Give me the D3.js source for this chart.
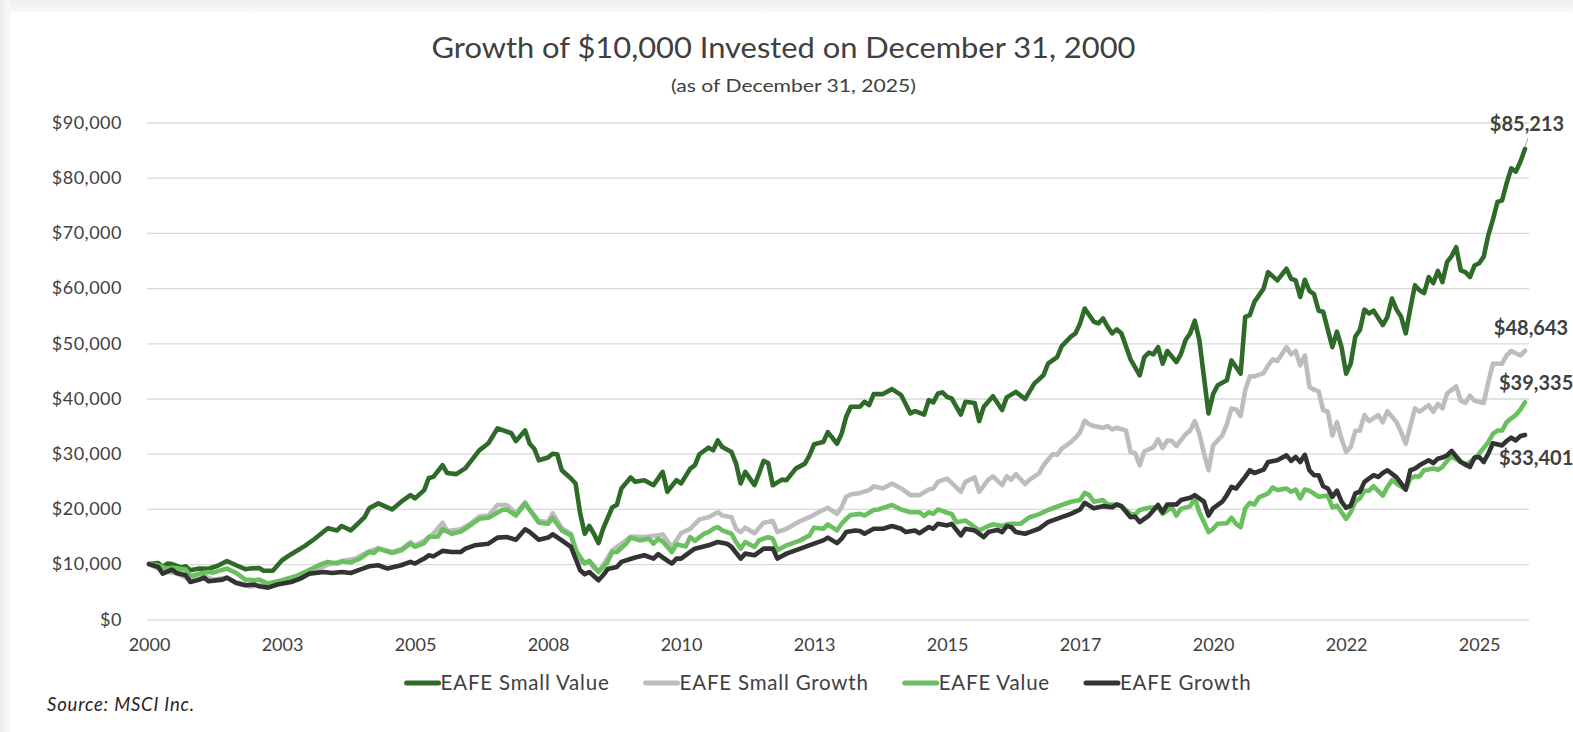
<!DOCTYPE html>
<html>
<head>
<meta charset="utf-8">
<script src="https://cdn.jsdelivr.net/npm/d3@7/dist/d3.min.js"></script>
<style>
  html, body { margin: 0; padding: 0; background: #ffffff; }
  svg { display: block; }
  text { font-family: Lato, "Open Sans", "DejaVu Sans", sans-serif; }
</style>
</head>
<body>
<svg id="chart" width="1573" height="732"></svg>
<script>
// ---------------- DATA ----------------
const chartTitle = "Growth of $10,000 Invested on December 31, 2000";
const chartSubtitle = "(as of December 31, 2025)";
const sourceNote = "Source: MSCI Inc.";
const seriesNames = ["EAFE Small Value", "EAFE Small Growth", "EAFE Value", "EAFE Growth"];
const seriesColors = ["#2e6b29", "#bdbdbd", "#6abf5f", "#333333"];
// month index 0 = Dec 2000 ... 300 = Dec 2025; tick label every 29 months
const xTickMonths = [0, 29, 58, 87, 116, 145, 174, 203, 232, 261, 290];
const xTickLabels = ["2000", "2003", "2005", "2008", "2010", "2013", "2015", "2017", "2020", "2022", "2025"];
const yTickValues = [0, 10000, 20000, 30000, 40000, 50000, 60000, 70000, 80000, 90000];
const endLabels = ["$85,213", "$48,643", "$39,335", "$33,401"];

// [month index, value in $]
const smallValue = [[0,10000],[2,10200],[3,9480],[4,10100],[5,10000],[7,9400],[8,9600],[9,8880],[11,9200],[13,9150],[15,9700],[17,10560],[19,9790],[21,9070],[22,9200],[24,9300],[25,8800],[27,8800],[29,10700],[31,11800],[34,13300],[36,14500],[39,16500],[41,16100],[42,16900],[44,16100],[45,16900],[47,18500],[48,20100],[50,21000],[53,19900],[55,21300],[57,22500],[58,21900],[60,23400],[61,25600],[62,25800],[64,27900],[65,26500],[67,26300],[69,27400],[72,30600],[74,31900],[76,34600],[79,33700],[80,32300],[82,34200],[83,31800],[84,30900],[85,28800],[87,29300],[88,30000],[89,29900],[90,27000],[92,25500],[93,24600],[94,19200],[95,15500],[96,16900],[97,15500],[98,13800],[99,16400],[101,20300],[102,20700],[103,23700],[105,25700],[106,24900],[108,25200],[110,24300],[112,26700],[113,23100],[115,25200],[116,24600],[118,27300],[119,27900],[120,29900],[122,31100],[123,30600],[124,32400],[125,31200],[127,30300],[128,28200],[129,24600],[130,26700],[132,24300],[133,26400],[134,28700],[135,28300],[136,24300],[138,25300],[139,25200],[141,27300],[143,28200],[144,29700],[145,31700],[147,32100],[148,33900],[150,31800],[151,33600],[152,36700],[153,38500],[155,38500],[156,39400],[157,38800],[158,40800],[160,40800],[162,41700],[164,40600],[166,37300],[167,37700],[169,37100],[170,39700],[171,39300],[172,40900],[173,41100],[174,40300],[175,40000],[177,37100],[178,39400],[180,39200],[181,35900],[182,38500],[184,40400],[186,37900],[187,40200],[189,41200],[191,39900],[193,42700],[195,44200],[196,46300],[198,47500],[199,49500],[201,51200],[202,51800],[203,53600],[204,56300],[206,53900],[207,53600],[208,54500],[209,53000],[210,51800],[211,52500],[212,51800],[214,47100],[216,44200],[217,47500],[218,48300],[219,48000],[220,49300],[221,46300],[222,48600],[224,46600],[225,48100],[226,50600],[227,51800],[228,54100],[229,50600],[230,43900],[231,37300],[232,40800],[233,42400],[235,43300],[236,46900],[237,45700],[238,44500],[239,54800],[240,55100],[241,57500],[243,59900],[244,62900],[246,61400],[248,63500],[249,61700],[250,61400],[251,58400],[252,61500],[253,59500],[254,58900],[255,55900],[256,55700],[258,49300],[259,52100],[260,49300],[261,44500],[262,46300],[263,51200],[264,52400],[265,56100],[266,55400],[267,55900],[269,53300],[270,54800],[271,58100],[272,56100],[273,54800],[274,51800],[275,56300],[276,60500],[277,59600],[278,59100],[279,62000],[280,60900],[281,63100],[282,61100],[283,64700],[284,65800],[285,67400],[286,63200],[287,62900],[288,62000],[289,64100],[290,64500],[291,65700],[292,69600],[293,72400],[294,75600],[295,75900],[296,79000],[297,81700],[298,81100],[299,82900],[300,85213]];

const smallGrowth = [[0,10000],[3,8800],[6,8300],[9,7200],[12,7800],[14,7200],[17,7500],[19,6700],[21,6300],[22,5900],[24,6200],[26,6000],[28,6500],[31,7300],[34,8200],[36,8800],[39,9900],[42,10500],[45,11000],[48,12300],[50,12900],[53,12200],[55,12700],[57,14000],[58,13400],[60,14200],[62,15500],[64,17500],[65,16000],[68,16300],[70,17300],[72,18600],[74,18800],[76,20700],[78,20700],[80,19200],[82,21200],[83,19900],[85,17800],[87,17600],[88,19200],[90,16500],[92,15500],[93,13000],[94,10200],[96,10400],[97,9300],[98,8700],[99,9800],[101,12500],[104,14300],[105,15000],[108,14900],[111,15200],[112,15400],[114,13100],[115,14300],[116,15600],[118,16400],[120,18100],[122,18500],[124,19400],[125,18800],[127,18500],[128,16400],[129,15800],[130,16600],[132,15600],[134,17500],[136,17800],[137,15800],[139,16400],[142,17800],[144,18500],[146,19400],[148,20200],[150,19100],[151,20300],[152,22200],[153,22600],[155,22900],[157,23400],[158,24100],[160,23700],[162,24600],[164,23700],[166,22500],[168,22500],[170,23500],[171,23700],[172,24900],[174,25500],[175,24700],[177,23100],[178,24900],[180,25700],[181,23100],[183,25300],[184,25900],[186,24300],[187,25900],[188,25300],[189,26300],[191,24500],[192,25300],[194,26400],[195,27900],[197,29900],[198,29800],[199,30900],[201,32100],[202,32900],[203,33900],[204,36000],[205,35300],[206,35000],[208,34700],[209,35000],[210,34400],[211,34700],[213,34200],[214,30300],[215,30100],[216,27900],[217,30400],[219,31200],[220,32600],[221,31000],[222,32400],[223,32300],[224,31400],[226,33500],[227,34200],[228,35900],[229,33600],[230,30100],[231,27000],[232,31500],[234,33300],[235,35300],[236,38200],[237,38000],[238,36800],[239,41500],[240,44000],[241,44000],[243,44600],[244,46000],[245,47100],[246,46800],[248,49300],[249,48000],[250,48600],[251,46000],[252,47800],[253,42100],[254,41600],[255,41300],[256,37900],[257,37600],[258,33300],[259,35700],[260,32700],[261,30300],[262,31200],[263,34100],[264,34200],[265,37000],[266,35900],[268,37000],[269,35700],[270,37700],[272,35700],[273,33900],[274,31800],[275,35000],[276,38200],[277,37600],[279,38800],[280,37600],[281,39000],[282,38200],[283,40900],[285,42200],[286,39600],[287,39200],[288,40500],[289,39600],[291,39200],[292,43000],[293,46300],[295,46300],[296,47800],[297,48600],[298,48200],[299,47800],[300,48643]];

const value = [[0,10000],[2,9780],[4,9190],[5,9360],[8,9000],[9,7790],[11,8280],[13,8570],[14,8460],[17,9190],[19,8390],[21,7190],[23,7070],[24,7190],[26,6470],[29,7070],[32,7790],[34,8570],[37,9790],[39,10400],[41,10100],[42,10500],[44,10300],[46,11000],[48,12200],[49,12000],[50,12800],[53,12000],[55,12500],[57,13700],[58,13100],[60,13800],[61,14900],[63,15000],[64,16300],[66,15500],[68,15900],[70,17000],[72,18200],[74,18400],[77,19800],[78,19900],[80,18800],[82,21000],[83,19800],[85,17500],[87,17300],[88,18400],[90,16100],[92,15200],[93,12500],[95,10100],[96,10600],[97,9600],[98,8570],[99,9480],[100,10400],[101,12200],[102,12200],[104,13700],[105,14800],[107,14300],[109,14600],[110,13700],[111,14600],[112,14100],[114,12200],[115,13600],[117,13200],[118,14900],[119,14200],[121,15500],[122,15800],[123,16400],[124,16700],[125,16100],[127,15500],[128,14000],[129,12800],[130,14000],[132,13100],[133,14300],[135,14900],[136,14600],[137,12500],[139,13400],[142,14300],[144,15200],[145,16600],[147,16400],[148,17200],[150,16100],[151,17300],[152,18200],[153,18900],[155,19100],[156,18800],[158,19800],[159,19900],[162,20700],[164,19900],[166,19400],[168,19400],[169,18700],[170,19400],[171,19100],[172,19900],[174,19300],[175,19100],[176,17600],[178,17900],[179,17300],[181,16100],[183,16900],[184,17200],[186,16900],[187,17200],[188,17300],[190,17300],[192,18500],[194,19000],[196,19800],[199,20700],[201,21300],[203,21600],[204,22900],[205,22500],[206,21300],[208,21600],[209,20800],[211,20800],[212,20500],[214,19100],[215,19000],[216,19800],[218,20200],[220,20300],[221,19100],[223,20300],[224,18800],[225,20000],[227,20500],[228,21900],[229,19400],[231,15800],[232,16400],[233,17300],[235,17400],[236,18400],[237,17300],[238,16700],[239,20100],[240,21100],[241,20800],[242,22100],[244,22800],[245,23900],[246,23400],[248,23700],[249,23100],[250,23500],[251,21900],[252,23500],[253,23300],[255,22200],[257,22400],[258,20300],[259,20600],[260,19400],[261,18200],[262,19400],[263,21300],[264,21900],[265,23300],[266,23300],[267,24100],[269,22400],[270,24000],[271,25200],[272,24600],[274,23500],[275,25500],[276,25900],[277,25900],[278,27000],[280,27300],[281,27100],[282,27600],[283,28700],[284,29500],[286,28500],[287,27900],[289,29100],[290,30000],[292,32100],[293,33600],[294,34200],[295,34200],[296,35700],[297,36400],[298,37000],[299,38000],[300,39335]];

const growth = [[0,10000],[2,9480],[3,8280],[5,9000],[6,8390],[8,7970],[9,6760],[11,7190],[12,7550],[13,6880],[16,7190],[17,7550],[19,6580],[21,6160],[23,6300],[24,5980],[26,5740],[28,6300],[31,6760],[33,7370],[35,8280],[38,8570],[40,8390],[42,8570],[44,8390],[46,9000],[48,9600],[50,9790],[52,9190],[55,9790],[57,10400],[58,10100],[60,11000],[61,11600],[62,11400],[64,12400],[66,12200],[68,12200],[69,12800],[71,13400],[74,13700],[76,14800],[78,14900],[80,14400],[82,16300],[83,15800],[85,14400],[87,14800],[88,15400],[90,14300],[92,13100],[94,8880],[95,8150],[96,8570],[98,7070],[99,7970],[100,9100],[102,9480],[103,10400],[106,11200],[108,11600],[110,11000],[111,11800],[112,11200],[114,10100],[115,11000],[116,11000],[118,12200],[119,12800],[122,13400],[124,14000],[126,13700],[127,13100],[129,11000],[130,11900],[132,11600],[134,12800],[136,12800],[137,11000],[139,11900],[142,12800],[145,13700],[147,14300],[148,14800],[150,13800],[151,14600],[152,15800],[154,16100],[155,16000],[156,15500],[158,16400],[160,16400],[162,16900],[164,16400],[165,15800],[167,16100],[168,15600],[170,16700],[171,16400],[172,17300],[174,17000],[175,17300],[177,15200],[178,16400],[180,16100],[182,14900],[183,15800],[185,16200],[186,15800],[187,16900],[188,16700],[189,15800],[191,15500],[192,15800],[194,16400],[196,17600],[199,18500],[201,19100],[203,19900],[204,21100],[206,20100],[208,20500],[210,20300],[211,20800],[212,20500],[214,18500],[215,18600],[216,17600],[218,18800],[220,20700],[221,19400],[222,20800],[224,20800],[225,21600],[227,22000],[228,22500],[230,21300],[231,18800],[232,20100],[234,21300],[235,22500],[236,24000],[237,23700],[239,25800],[240,27000],[241,26500],[243,27100],[244,28500],[246,28800],[248,29700],[249,28700],[250,29400],[251,28500],[252,29800],[253,27000],[254,26100],[255,26100],[256,24100],[257,23700],[258,22200],[259,23300],[260,21300],[261,20200],[262,20600],[263,22800],[264,23100],[265,24900],[267,26100],[268,25800],[269,26500],[270,27000],[272,25700],[273,24600],[274,23500],[275,27000],[276,27300],[277,27900],[279,28800],[280,28300],[281,29100],[282,29300],[283,29700],[284,30500],[286,28500],[287,28100],[288,27600],[289,29300],[290,29400],[291,28500],[292,30000],[293,31900],[295,31500],[296,32300],[297,32900],[298,32400],[299,33200],[300,33401]];

const seriesData = [smallValue, smallGrowth, value, growth];

// ---------------- DRAW ----------------
const W = 1573, H = 732;
const svg = d3.select("#chart");
const textColor = "#404040";

// card background with faint shadow edge on top/left
const defs = svg.append("defs");
const gl = defs.append("linearGradient").attr("id", "gl").attr("x1", 0).attr("x2", 1).attr("y1", 0).attr("y2", 0);
gl.append("stop").attr("offset", "0%").attr("stop-color", "#ececec");
gl.append("stop").attr("offset", "100%").attr("stop-color", "#f8f8f8");
const gt = defs.append("linearGradient").attr("id", "gt").attr("x1", 0).attr("x2", 0).attr("y1", 0).attr("y2", 1);
gt.append("stop").attr("offset", "0%").attr("stop-color", "#efefef");
gt.append("stop").attr("offset", "100%").attr("stop-color", "#f8f8f8");
svg.append("rect").attr("x", 0).attr("y", 0).attr("width", W).attr("height", 12).attr("fill", "url(#gt)");
svg.append("rect").attr("x", 0).attr("y", 0).attr("width", 10).attr("height", H).attr("fill", "url(#gl)");
svg.append("rect").attr("x", 10).attr("y", 12).attr("width", W - 10).attr("height", H - 12).attr("fill", "#ffffff");

const plotLeft = 149, plotRight = 1525, gridLeft = 147, gridRight = 1529;
const x = d3.scaleLinear().domain([0, 300]).range([plotLeft, plotRight]);
const y = d3.scaleLinear().domain([0, 90000]).range([619.3, 122.5]);

// Title
svg.append("text")
  .attr("x", 783.5).attr("y", 58)
  .attr("text-anchor", "middle")
  .attr("font-size", 28).attr("fill", textColor)
  .attr("textLength", 704).attr("lengthAdjust", "spacingAndGlyphs")
  .text(chartTitle);
svg.append("text")
  .attr("x", 793.5).attr("y", 92)
  .attr("text-anchor", "middle")
  .attr("font-size", 18).attr("fill", textColor)
  .attr("textLength", 245).attr("lengthAdjust", "spacingAndGlyphs")
  .text(chartSubtitle);

// Y axis with gridlines
const yAxis = d3.axisLeft(y)
  .tickValues(yTickValues)
  .tickFormat(d => "$" + d3.format(",")(d))
  .tickSizeInner(-(gridRight - gridLeft))
  .tickSizeOuter(0)
  .tickPadding(25);
const yG = svg.append("g").attr("transform", `translate(${gridLeft},0)`).call(yAxis);
yG.select(".domain").remove();
yG.selectAll(".tick line").attr("stroke", "#d9d9d9").attr("stroke-width", 1.3);
yG.selectAll(".tick text").attr("font-size", 18).attr("fill", textColor)
  .attr("letter-spacing", 0.5)
  .style("font-family", "Lato, 'Open Sans', sans-serif");

// X axis
const xAxis = d3.axisBottom(x)
  .tickValues(xTickMonths)
  .tickFormat((d, i) => xTickLabels[i])
  .tickSize(0)
  .tickPadding(19);
const xG = svg.append("g").attr("transform", `translate(0,${y(0)})`).call(xAxis);
xG.select(".domain").remove();
xG.selectAll(".tick text").attr("font-size", 18).attr("fill", textColor)
  .style("font-family", "Lato, 'Open Sans', sans-serif");

// Lines
const line = d3.line().x(d => x(d[0])).y(d => y(d[1]));
const linesG = svg.append("g");
seriesData.forEach((s, i) => {
  linesG.append("path")
    .datum(s)
    .attr("d", line)
    .attr("fill", "none")
    .attr("stroke", seriesColors[i])
    .attr("stroke-width", 4.6)
    .attr("stroke-linejoin", "round")
    .attr("stroke-linecap", "round");
});

// End labels
const labelOffsets = [
  { dx: 2, dy: -18, anchor: "middle" },
  { dx: 6, dy: -16, anchor: "middle" },
  { dx: -26, dy: -12, anchor: "start" },
  { dx: -26, dy: 30, anchor: "start" }
];
seriesData.forEach((s, i) => {
  const last = s[s.length - 1];
  const px = x(last[0]), py = y(last[1]);
  const o = labelOffsets[i];
  if (i === 0) {
    svg.append("line")
      .attr("x1", px).attr("y1", py - 2)
      .attr("x2", px + 3).attr("y2", py - 11)
      .attr("stroke", "#a6a6a6").attr("stroke-width", 1);
  }
  svg.append("text")
    .attr("x", px + o.dx).attr("y", py + o.dy)
    .attr("text-anchor", o.anchor)
    .attr("font-size", 20).attr("font-weight", 700)
    .attr("fill", textColor)
    .text(endLabels[i]);
});

// Legend
const legendY = 683;
const legend = svg.append("g");
const items = [];
seriesNames.forEach((name, i) => {
  const g = legend.append("g");
  g.append("line")
    .attr("x1", 2).attr("x2", 34).attr("y1", 0).attr("y2", 0)
    .attr("stroke", seriesColors[i]).attr("stroke-width", 5)
    .attr("stroke-linecap", "round");
  const t = g.append("text")
    .attr("x", 36).attr("y", 7)
    .attr("font-size", 20.5).attr("fill", textColor)
    .attr("letter-spacing", 0.8)
    .text(name);
  const w = 36 + t.node().getComputedTextLength();
  items.push({ g, w });
});
const gap = 34;
const total = d3.sum(items, d => d.w) + gap * (items.length - 1);
let lx = 828 - total / 2;
items.forEach(it => {
  it.g.attr("transform", `translate(${lx},${legendY})`);
  lx += it.w + gap;
});

// Source
svg.append("text")
  .attr("x", 47).attr("y", 711)
  .attr("font-size", 18.5).attr("font-style", "italic")
  .attr("letter-spacing", 0.8)
  .attr("fill", "#262626")
  .text(sourceNote);
</script>
</body>
</html>
